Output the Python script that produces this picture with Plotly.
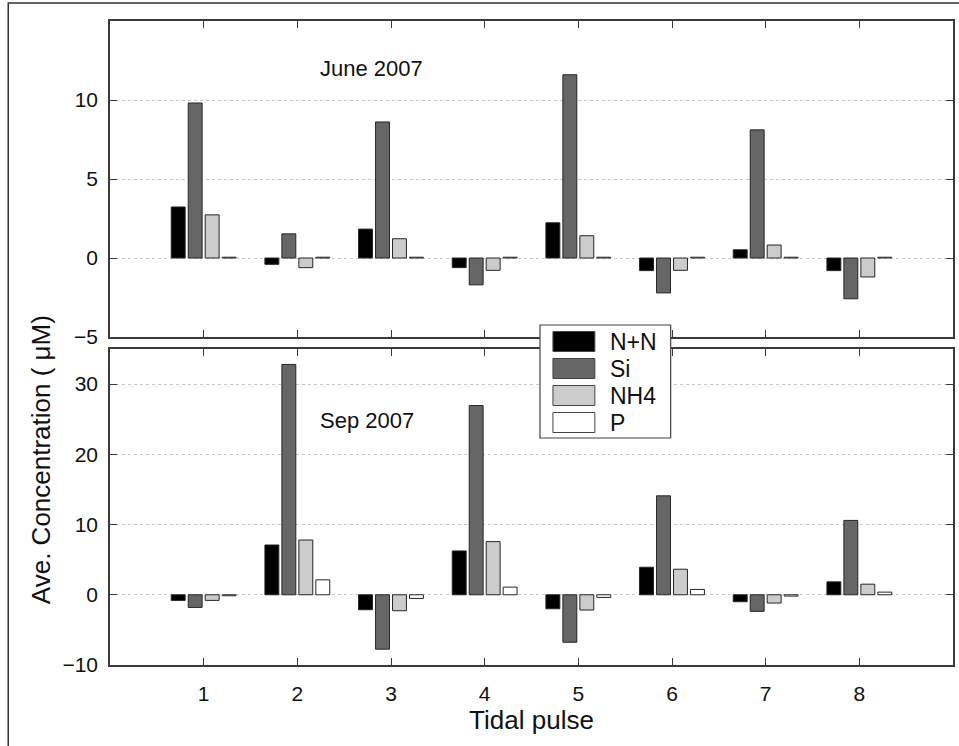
import plotly.graph_objects as go

pulses = [1, 2, 3, 4, 5, 6, 7, 8]
series_names = ["N+N", "Si", "NH4", "P"]
series_colors = ["#000000", "#666666", "#cccccc", "#ffffff"]

june_nn = [3.23, -0.40, 1.83, -0.61, 2.23, -0.80, 0.52, -0.80]
june_si = [9.81, 1.53, 8.61, -1.70, 11.6, -2.21, 8.11, -2.58]
june_nh4 = [2.73, -0.61, 1.22, -0.78, 1.41, -0.78, 0.82, -1.20]
june_p = [0.05, 0.05, 0.05, 0.05, 0.05, 0.05, 0.05, 0.05]

sep_nn = [-0.80, 7.09, -2.13, 6.24, -1.99, 3.92, -0.99, 1.84]
sep_si = [-1.80, 32.8, -7.75, 26.95, -6.76, 14.09, -2.36, 10.59]
sep_nh4 = [-0.80, 7.80, -2.27, 7.57, -2.17, 3.64, -1.18, 1.51]
sep_p = [-0.14, 2.13, -0.52, 1.09, -0.38, 0.76, -0.19, 0.38]

top_ticks = [-5, 0, 5, 10]
bottom_ticks = [-10, 0, 10, 20, 30]

FONT = "Liberation Sans, Arial, sans-serif"
W, H = 959, 746
ML, MR, MT, MB = 110, 4, 21, 81
PW, PH = W - ML - MR, H - MT - MB


def px(x):
    return (x - ML) / PW


def py(y):
    return (H - MB - y) / PH


fig = go.Figure()
june = [june_nn, june_si, june_nh4, june_p]
sep = [sep_nn, sep_si, sep_nh4, sep_p]
for name, color, vals in zip(series_names, series_colors, june):
    fig.add_trace(go.Bar(x=pulses, y=vals, name=name, marker=dict(color=color, line=dict(color="#262626", width=1)),
                         xaxis="x", yaxis="y", showlegend=False))
for name, color, vals in zip(series_names, series_colors, sep):
    fig.add_trace(go.Bar(x=pulses, y=vals, name=name, marker=dict(color=color, line=dict(color="#262626", width=1)),
                         xaxis="x2", yaxis="y2", showlegend=False))

axis_common = dict(showline=True, linecolor="#3a3a3a", linewidth=1.5, mirror="ticks", ticks="inside",
                   ticklen=7, tickcolor="#3a3a3a", tickwidth=1.2, zeroline=False,
                   tickfont=dict(family=FONT, size=21, color="#111111"))

top_dom = [py(337), 1.0]
bot_dom = [0.0, py(349)]

fig.update_layout(
    width=W, height=H,
    margin=dict(l=ML, r=MR, t=MT, b=MB),
    paper_bgcolor="white", plot_bgcolor="white",
    barmode="group", bargap=0.275, bargroupgap=0.18,
    font=dict(family=FONT, color="#111111"),
    xaxis=dict(domain=[0, 1], anchor="y", range=[0, 9], tickvals=pulses, showticklabels=False,
               showgrid=False, **axis_common),
    yaxis=dict(domain=top_dom, anchor="x", range=[-5, 15], tickvals=top_ticks, showgrid=True,
               gridcolor="#c8c8c8", griddash="dot", gridwidth=1, ticklabelstandoff=6, **axis_common),
    xaxis2=dict(domain=[0, 1], anchor="y2", range=[0, 9], tickvals=pulses, showgrid=False,
                ticklabelstandoff=9,
                title=dict(text="Tidal pulse", font=dict(family=FONT, size=26, color="#111111"), standoff=6),
                **axis_common),
    yaxis2=dict(domain=bot_dom, anchor="x2", range=[-10, 35], tickvals=bottom_ticks, showgrid=True,
                gridcolor="#c8c8c8", griddash="dot", gridwidth=1, ticklabelstandoff=6, **axis_common),
)

shapes = []
annotations = []
# outer frame
shapes.append(dict(type="rect", xref="paper", yref="paper", x0=px(8), x1=px(1000), y0=py(800), y1=py(3),
                   line=dict(color="#333333", width=1.5), fillcolor="rgba(0,0,0,0)", layer="below"))
# legend box
shapes.append(dict(type="rect", xref="paper", yref="paper", x0=px(541), x1=px(672), y0=py(438), y1=py(325),
                   line=dict(color="#444444", width=1.2), fillcolor="white", layer="above"))
row_tops = [331.5, 358.5, 385.5, 412.5]
for name, color, yt in zip(series_names, series_colors, row_tops):
    shapes.append(dict(type="rect", xref="paper", yref="paper", x0=px(554), x1=px(596), y0=py(yt + 20), y1=py(yt),
                       line=dict(color="#444444", width=1), fillcolor=color, layer="above"))
    annotations.append(dict(xref="paper", yref="paper", x=px(609), y=py(yt + 10), text=name, showarrow=False,
                            xanchor="left", yanchor="middle", font=dict(family=FONT, size=23, color="#111111")))

annotations.append(dict(xref="paper", yref="paper", x=px(372), y=py(68), text="June 2007", showarrow=False,
                        xanchor="center", yanchor="middle", font=dict(family=FONT, size=22, color="#111111")))
annotations.append(dict(xref="paper", yref="paper", x=px(368), y=py(420), text="Sep 2007", showarrow=False,
                        xanchor="center", yanchor="middle", font=dict(family=FONT, size=22, color="#111111")))
annotations.append(dict(xref="paper", yref="paper", x=px(41), y=py(460), text="Ave. Concentration ( \u03bcM)",
                        showarrow=False, textangle=-90, xanchor="center", yanchor="middle",
                        font=dict(family=FONT, size=26, color="#111111")))

fig.update_layout(shapes=shapes, annotations=annotations)
fig.write_html("out.html")
